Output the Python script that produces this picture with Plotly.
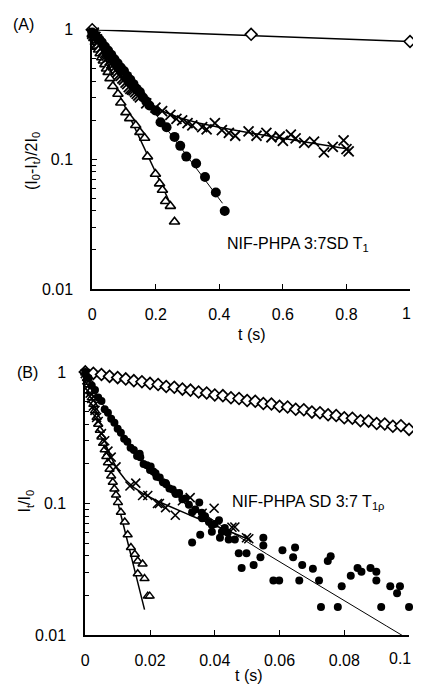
import numpy as np
import plotly.graph_objects as go

# ---------------- panel A (T1) ----------------
a_dia_t = [0.0, 0.5, 1.0]
a_dia_y = [1.0, 0.92, 0.81]

a_x_t = [0.0, 0.005, 0.01, 0.015, 0.02, 0.025, 0.03, 0.035, 0.04, 0.045, 0.05, 0.055, 0.06, 0.065,
         0.07, 0.075, 0.08, 0.085, 0.09, 0.095, 0.10, 0.105, 0.11, 0.115, 0.12, 0.125, 0.13,
         0.135, 0.14, 0.145,
         0.15, 0.17, 0.199, 0.22, 0.246, 0.265, 0.283, 0.30, 0.315, 0.346, 0.36, 0.386, 0.408,
         0.43, 0.45, 0.492, 0.517, 0.548, 0.564, 0.59, 0.60, 0.625, 0.64, 0.667, 0.698, 0.729,
         0.757, 0.791, 0.80, 0.807]
a_x_y = [0.93, 0.95, 0.88, 0.84, 0.81, 0.77, 0.73, 0.69, 0.66, 0.63, 0.61, 0.58, 0.55, 0.53,
         0.51, 0.49, 0.47, 0.45, 0.44, 0.42, 0.41, 0.39, 0.38, 0.36, 0.35, 0.345, 0.34,
         0.33, 0.32, 0.31,
         0.30, 0.27, 0.25, 0.235, 0.22, 0.205, 0.20, 0.19, 0.183, 0.177, 0.17, 0.19, 0.168,
         0.16, 0.152, 0.164, 0.152, 0.16, 0.148, 0.15, 0.139, 0.155, 0.145, 0.134, 0.137, 0.113,
         0.125, 0.14, 0.12, 0.115]

a_o_t = [0.0, 0.01, 0.02, 0.03, 0.04, 0.05, 0.06, 0.07, 0.08, 0.09, 0.10, 0.11, 0.12, 0.13,
         0.14, 0.15, 0.16, 0.17, 0.18,
         0.199, 0.215, 0.234, 0.259, 0.277, 0.296, 0.327, 0.355, 0.389, 0.417]
a_o_y = [0.95, 0.91, 0.85, 0.80, 0.74, 0.69, 0.64, 0.59, 0.55, 0.51, 0.48, 0.44, 0.41, 0.38,
         0.35, 0.33, 0.30, 0.28, 0.26,
         0.238, 0.193, 0.177, 0.149, 0.127, 0.105, 0.093, 0.073, 0.0555, 0.040]

a_tri_t = [0.0, 0.005, 0.01, 0.015, 0.02, 0.025, 0.03, 0.035, 0.04, 0.045, 0.05, 0.056, 0.065,
           0.081, 0.090, 0.106, 0.118, 0.137, 0.150, 0.165, 0.174, 0.199, 0.212, 0.221, 0.231,
           0.246, 0.259]
a_tri_y = [0.92, 0.86, 0.80, 0.75, 0.70, 0.655, 0.61, 0.575, 0.54, 0.50, 0.47, 0.421, 0.366,
           0.319, 0.273, 0.230, 0.207, 0.183, 0.162, 0.146, 0.105, 0.077, 0.065, 0.058, 0.0475,
           0.0436, 0.033]

# fit parameters (amplitude, time constant) for the drawn curves
a_dia_fit = [(1.0, 4.75)]
a_x_fit = [(0.75, 0.07), (0.25, 1.1)]
a_o_fit = [(1.0, 0.133)]
a_tri_fit = [(0.88, 0.083)]

# ---------------- panel B (T1rho) ----------------
b_dia_t = [0.0, 0.0025, 0.005, 0.0075, 0.01, 0.0125, 0.015, 0.0175, 0.02, 0.0225, 0.025, 0.0275,
           0.03, 0.0325, 0.035, 0.0375, 0.04, 0.0425, 0.045, 0.0475, 0.05, 0.0525, 0.055, 0.0575,
           0.06, 0.0625, 0.065, 0.0675, 0.07, 0.0725, 0.075, 0.0775, 0.08, 0.0825, 0.085, 0.0875,
           0.09, 0.0925, 0.095, 0.0975, 0.1]
b_dia_y = [1.0, 0.975, 0.955, 0.925, 0.905, 0.885, 0.858, 0.842, 0.818, 0.802, 0.775, 0.764,
           0.740, 0.727, 0.703, 0.692, 0.668, 0.660, 0.636, 0.628, 0.606, 0.598, 0.575, 0.570,
           0.548, 0.541, 0.520, 0.516, 0.495, 0.490, 0.472, 0.466, 0.448, 0.445, 0.426, 0.423,
           0.405, 0.402, 0.386, 0.390, 0.366]

b_o_t = [0.0, 0.001, 0.002, 0.003, 0.004, 0.005, 0.006, 0.007, 0.008, 0.009, 0.010, 0.011, 0.012,
         0.013, 0.014, 0.015, 0.016, 0.017, 0.018, 0.019, 0.020, 0.021, 0.022, 0.023, 0.024, 0.025,
         0.026, 0.027, 0.028, 0.029, 0.030,
         0.0168, 0.0202, 0.0217, 0.0248, 0.0278, 0.0309, 0.032, 0.033, 0.034, 0.0352, 0.036, 0.0361,
         0.037, 0.033, 0.0355, 0.0382, 0.0391, 0.0391, 0.040, 0.0413, 0.0416, 0.0422, 0.0431,
         0.0443, 0.044, 0.0462, 0.0474, 0.0483, 0.0498, 0.0520, 0.0541, 0.0550, 0.0550,
         0.0581, 0.0599, 0.0609, 0.0642, 0.0648, 0.0661, 0.0670, 0.0703, 0.0722, 0.0728, 0.0749,
         0.0758, 0.0780, 0.0792, 0.0820, 0.0841, 0.0853, 0.0881, 0.0899, 0.0899, 0.0914, 0.0942,
         0.0963, 0.0972, 0.1]
b_o_y = [1.0, 0.90, 0.79, 0.73, 0.64, 0.60, 0.52, 0.49, 0.44, 0.41, 0.37, 0.345, 0.31,
         0.295, 0.265, 0.255, 0.23, 0.225, 0.20, 0.195, 0.18, 0.175, 0.16, 0.158, 0.145, 0.14,
         0.13, 0.128, 0.118, 0.12, 0.108,
         0.239, 0.191, 0.17, 0.143, 0.12, 0.109, 0.098, 0.0858, 0.09, 0.102, 0.085, 0.0774,
         0.08, 0.0506, 0.058, 0.0723, 0.0687, 0.061, 0.07, 0.0748, 0.055, 0.061, 0.0653,
         0.0532, 0.06, 0.0532, 0.0419, 0.0324, 0.0419, 0.0341, 0.039, 0.055, 0.048,
         0.026, 0.026, 0.0441, 0.039, 0.0464, 0.026, 0.0341, 0.0319, 0.026, 0.0164, 0.0366,
         0.0398, 0.0164, 0.0235, 0.0283, 0.0324, 0.0303, 0.0324, 0.0303, 0.026, 0.0164, 0.0235,
         0.0208, 0.0235, 0.0164]

b_x_t = [0.0, 0.0005, 0.001, 0.0015, 0.002, 0.0025, 0.003, 0.0035, 0.004, 0.005, 0.006, 0.007,
         0.008, 0.0095, 0.0138, 0.0156, 0.0177, 0.0193, 0.0223, 0.0229, 0.0248, 0.0278, 0.030,
         0.0324, 0.0361, 0.0398, 0.0453, 0.0462, 0.0498, 0.0505]
b_x_y = [0.97, 0.87, 0.79, 0.69, 0.63, 0.55, 0.51, 0.45, 0.42, 0.34, 0.30, 0.25,
         0.225, 0.19, 0.136, 0.143, 0.115, 0.115, 0.10, 0.10, 0.093, 0.0815, 0.105,
         0.111, 0.0843, 0.092, 0.066, 0.0664, 0.055, 0.054]

b_tri_t = [0.0, 0.0005, 0.001, 0.0015, 0.002, 0.0025, 0.003, 0.0035, 0.004, 0.0045, 0.005, 0.0055,
           0.006, 0.0065, 0.007, 0.0075, 0.008, 0.0085, 0.009, 0.0095, 0.0101, 0.011, 0.0122,
           0.0131, 0.0141, 0.0153, 0.0162, 0.0177, 0.0162, 0.0183, 0.0193, 0.0199]
b_tri_y = [0.98, 0.89, 0.80, 0.71, 0.635, 0.567, 0.506, 0.45, 0.40, 0.36, 0.32, 0.287,
           0.256, 0.228, 0.204, 0.182, 0.162, 0.145, 0.129, 0.116, 0.102, 0.0858, 0.0723,
           0.058, 0.0464, 0.0412, 0.0366, 0.0347, 0.0293, 0.0269, 0.0198, 0.0198]

b_dia_fit = [(1.0, 0.1006)]
b_o_fit = [(0.725, 0.007), (0.275, 0.0295)]
b_x_fit = [(0.826, 0.0034), (0.174, 0.0427)]
b_tri_fit = [(1.0, 0.0044)]

a_xticks = [0, 0.2, 0.4, 0.6, 0.8, 1]
a_xlabels = ["0", "0.2", "0.4", "0.6", "0.8", "1"]
b_xticks = [0, 0.02, 0.04, 0.06, 0.08, 0.1]
b_xlabels = ["0", "0.02", "0.04", "0.06", "0.08", "0.1"]


def fit_curve(params, t_end, n=200):
    t = np.linspace(0, t_end, n)
    y = sum(a * np.exp(-t / tau) for a, tau in params)
    return t, y


FONT = "Liberation Sans, Arial, sans-serif"
FS = 16
# the page body keeps its default 8px margin, so the figure is made 16px smaller
# than the 421x698 window and every position is given in window pixels
OFF = 8
W, H = 421 - 2 * OFF, 698 - 2 * OFF


def px(x):
    return (x - OFF) / W


def py(y):
    return 1 - (y - OFF) / H


fig = go.Figure()


def add_series(t, y, symbol, size, xa, ya, filled=False, lw=1.5):
    fig.add_trace(go.Scatter(
        x=t, y=y, mode="markers", xaxis=xa, yaxis=ya, cliponaxis=False,
        marker=dict(symbol=symbol, size=size,
                    color="black" if filled else "white",
                    line=dict(color="black", width=lw)),
        showlegend=False,
    ))


def add_fit(params, t_end, xa, ya, width=1.5):
    t, y = fit_curve(params, t_end)
    fig.add_trace(go.Scatter(x=t, y=y, mode="lines", xaxis=xa, yaxis=ya,
                             line=dict(color="black", width=width), showlegend=False))


# panel A
add_fit(a_dia_fit, 1.0, "x", "y")
add_fit(a_x_fit, 0.81, "x", "y")
add_fit(a_o_fit, 0.41, "x", "y", width=1)
add_fit(a_tri_fit, 0.25, "x", "y")
add_series(a_dia_t, a_dia_y, "diamond", 9, "x", "y", lw=1.6)
add_series(a_tri_t, a_tri_y, "triangle-up", 9, "x", "y", lw=1.6)
add_series(a_o_t, a_o_y, "circle", 10, "x", "y", filled=True, lw=0)
add_series(a_x_t, a_x_y, "x-thin", 10, "x", "y", lw=1.8)

# panel B
add_fit(b_dia_fit, 0.1, "x2", "y2")
add_fit(b_o_fit, 0.0985, "x2", "y2", width=1)
add_fit(b_x_fit, 0.05, "x2", "y2")
add_fit(b_tri_fit, 0.0183, "x2", "y2")
add_series(b_dia_t, b_dia_y, "diamond", 9, "x2", "y2", lw=1.7)
add_series(b_tri_t, b_tri_y, "triangle-up", 8, "x2", "y2", lw=1.5)
add_series(b_o_t, b_o_y, "circle", 8, "x2", "y2", filled=True, lw=0)
add_series(b_x_t, b_x_y, "x-thin", 9, "x2", "y2", lw=1.6)

# tick positions for the log axes
minor_vals = [m * 10.0 ** e for e in (-2, -1) for m in range(2, 10)]

yaxis_common = dict(
    type="log", range=[-2, 0], tickvals=[0.01, 0.1, 1], ticktext=["0.01", "0.1", "1"],
    ticks="inside", ticklen=5, tickwidth=1.2, tickcolor="black",
    minor=dict(tickvals=minor_vals, ticks="inside", ticklen=4, tickwidth=1.2, tickcolor="black"),
    showline=True, linecolor="black", linewidth=1.8, showgrid=False, zeroline=False,
    ticklabelstandoff=14, tickfont=dict(family=FONT, size=FS, color="black"),
)
xaxis_common = dict(
    ticks="inside", ticklen=5, tickwidth=1.2, tickcolor="black",
    showline=True, linecolor="black", linewidth=1.8, showgrid=False, zeroline=False,
    ticklabelstandoff=10, tickfont=dict(family=FONT, size=FS, color="black"),
)

# the last x label of each panel sits at the window edge; it is drawn as a
# right-anchored annotation so that nothing spills past the page
fig.update_layout(
    width=W, height=H,
    margin=dict(l=0, r=0, t=0, b=0),
    paper_bgcolor="white", plot_bgcolor="white",
    font=dict(family=FONT, size=FS, color="black"),
    xaxis=dict(xaxis_common, domain=[px(89), px(410)], range=[0, 1], anchor="y",
               tickvals=a_xticks, ticktext=a_xlabels[:-1] + [""]),
    yaxis=dict(yaxis_common, domain=[py(288), py(22)], anchor="x"),
    xaxis2=dict(xaxis_common, domain=[px(82), px(409)], range=[0, 0.1], anchor="y2",
                tickvals=b_xticks, ticktext=b_xlabels[:-1] + [""]),
    yaxis2=dict(yaxis_common, domain=[py(643), py(373)], anchor="x2"),
)


def label(text, x, y, angle=0, anchor="center"):
    fig.add_annotation(text=text, x=px(x), y=py(y), xref="paper", yref="paper",
                       showarrow=False, textangle=angle, xanchor=anchor, yanchor="middle",
                       font=dict(family=FONT, size=FS, color="black"))


label("(A)", 20, 17)
label("(B)", 24, 374)
label("t (s)", 250, 335)
label("t (s)", 247, 684)
label("(I<sub>0</sub>-I<sub>t</sub>)/2I<sub>0</sub>", 28, 157, angle=-90)
label("I<sub>t</sub>/I<sub>0</sub>", 22, 505, angle=-90)
label("NIF-PHPA 3:7SD T<sub>1</sub>", 223, 242, anchor="left")
label("NIF-PHPA SD 3:7 T<sub>1\u03c1</sub>", 228, 507, anchor="left")
label(a_xlabels[-1], 413, 313, anchor="right")
label(b_xlabels[-1], 413, 667, anchor="right")

fig.write_html("out.html")
